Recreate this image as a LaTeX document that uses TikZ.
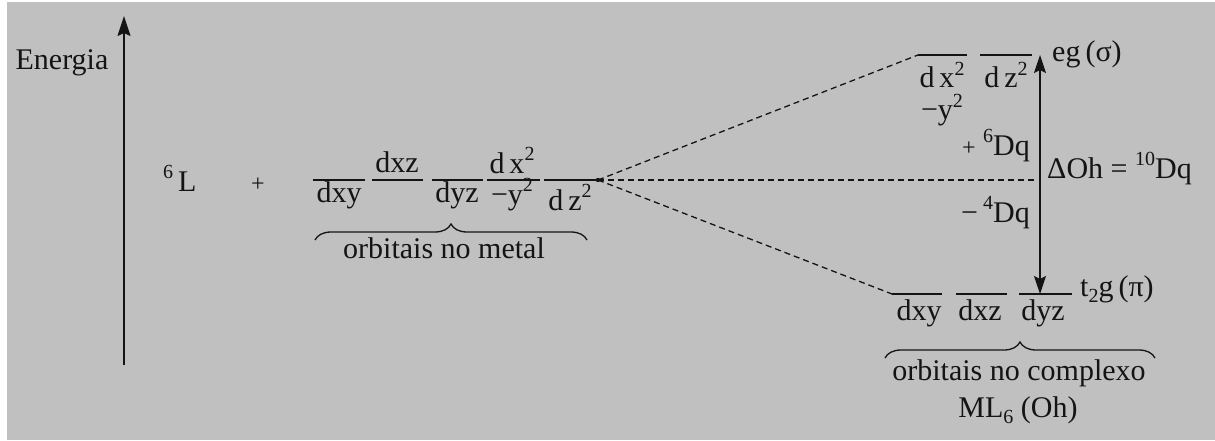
\documentclass[tikz,border=0pt]{standalone}
\usepackage{fontspec}
\setmainfont{Liberation Serif}
\usetikzlibrary{arrows.meta,decorations.pathreplacing}
\newcommand\upx[1]{\raisebox{0.42em}{\fontsize{20}{20}\selectfont #1}}
\newcommand\dnx[1]{\raisebox{-0.22em}{\fontsize{20}{20}\selectfont #1}}
\definecolor{bgc}{HTML}{C0C0C0}
\definecolor{ink}{HTML}{141414}
\begin{document}
\begin{tikzpicture}[x=1pt,y=-1pt,
  every node/.style={font=\fontsize{30}{36}\selectfont, inner sep=0pt, text=ink},
  lbl/.style={anchor=base},
  level/.style={line width=1.5pt, draw=ink},
  conn/.style={dash pattern=on 6pt off 4pt, line width=1.3pt, draw=ink},
  brc/.style={decorate, decoration={brace, amplitude=16pt}, line width=1.3pt, draw=ink},
  axis/.style={line width=1.6pt, draw=ink, -{Stealth[length=20pt,width=13pt,inset=3pt]}},
  gap/.style={line width=1.5pt, draw=ink, {Stealth[length=18pt,width=12pt,inset=3pt]}-{Stealth[length=18pt,width=12pt,inset=3pt]}}]
\useasboundingbox (0,0) rectangle (1215,441);
\fill[white] (0,0) rectangle (1215,441);
\fill[bgc] (7,2) rectangle (1215,440);

% energy axis
\coordinate (e0) at (124,365);
\coordinate (e1) at (124,16);
\draw[axis] (e0) -- (e1);
\node[lbl] (energia) at (62,70) {Energia};

% ligands
\node[lbl, anchor=base west] (lig) at (163,191) {\upx{6}\,L};
\node[lbl] (plus) at (258,191) {\fontsize{24}{24}\selectfont +};

% metal levels
\coordinate (m1a) at (313,180); \coordinate (m1b) at (365,180);
\coordinate (m2a) at (372,180); \coordinate (m2b) at (423,180);
\coordinate (m3a) at (432,180); \coordinate (m3b) at (483,180);
\coordinate (m4a) at (487,180); \coordinate (m4b) at (540,180);
\coordinate (m5a) at (544,180); \coordinate (c) at (598,180);
\draw[level] (m1a) -- (m1b);
\draw[level] (m2a) -- (m2b);
\draw[level] (m3a) -- (m3b);
\draw[level] (m4a) -- (m4b);
\draw[level] (m5a) -- (c);
\fill[ink] (c) circle (2.2pt);
\node[lbl] (mxy) at (339,202) {dxy};
\node[lbl] (mxz) at (397,172) {dxz};
\node[lbl] (myz) at (457,202) {dyz};
\node[lbl] (mx2) at (512,173) {d\,x\upx{2}};
\node[lbl] (my2) at (512,204) {\textminus y\upx{2}};
\node[lbl] (mz2) at (570,210) {d\,z\upx{2}};
\coordinate (mb0) at (315,240); \coordinate (mb1) at (587,240);
\draw[brc] (mb0) -- (mb1);
\node[lbl] (metal) at (444,258) {orbitais no metal};

% complex eg levels
\coordinate (u1a) at (918,55); \coordinate (u1b) at (967,55);
\coordinate (u2a) at (980,55); \coordinate (u2b) at (1032,55);
\draw[level] (u1a) -- (u1b);
\draw[level] (u2a) -- (u2b);
\node[lbl] (ux2) at (942,88) {d\,x\upx{2}};
\node[lbl] (uy2) at (942,120) {\textminus y\upx{2}};
\node[lbl] (uz2) at (1006,88) {d\,z\upx{2}};
\node[lbl, anchor=base west] (eg) at (1052,62) {eg\,(σ)};

% complex t2g levels
\coordinate (t1a) at (892,294); \coordinate (t1b) at (942,294);
\coordinate (t2a) at (956,294); \coordinate (t2b) at (1007,294);
\coordinate (t3a) at (1019,294); \coordinate (t3b) at (1072,294);
\draw[level] (t1a) -- (t1b);
\draw[level] (t2a) -- (t2b);
\draw[level] (t3a) -- (t3b);
\node[lbl] (txy) at (919,320) {dxy};
\node[lbl] (txz) at (980,320) {dxz};
\node[lbl] (tyz) at (1043,320) {dyz};
\node[lbl, anchor=base west] (t2g) at (1080,296) {t\dnx{2}g\,(π)};
\coordinate (tb0) at (885,358); \coordinate (tb1) at (1155,358);
\draw[brc] (tb0) -- (tb1);
\node[lbl] (complexo) at (1019,380) {orbitais no complexo};
\node[lbl] (ml6) at (1018,417) {ML\dnx{6} (Oh)};

% connectors
\coordinate (bary) at (1037,180);
\draw[conn] (c) -- (u1a);
\draw[conn] (c) -- (t1a);
\draw[conn] (c) -- (bary);

% splitting arrow
\coordinate (g0) at (1040,55);
\coordinate (g1) at (1040,294);
\draw[gap] (g0) -- (g1);
\node[lbl, anchor=base east] (p6) at (1030,155) {{\fontsize{24}{24}\selectfont +} \upx{6}Dq};
\node[lbl, anchor=base west] (doh) at (1047,178) {ΔOh = \upx{10}Dq};
\node[lbl, anchor=base east] (m4) at (1030,222) {\textminus\,\upx{4}Dq};
\end{tikzpicture}
\end{document}
